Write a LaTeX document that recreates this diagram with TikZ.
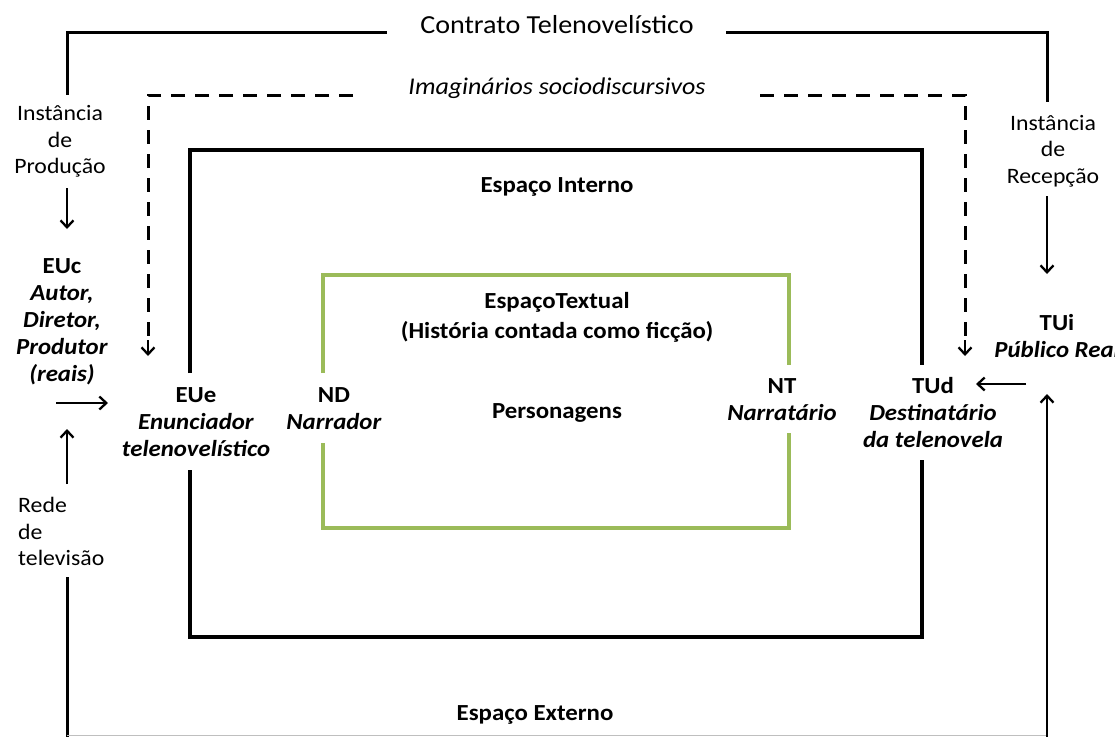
\documentclass[tikz,border=0pt]{standalone}
\usepackage{fontspec}
\setmainfont{Carlito}[FakeStretch=1.08]
\usetikzlibrary{arrows.meta}
\definecolor{textgreen}{HTML}{9BBB59}
\begin{document}
\begin{tikzpicture}[x=1pt,y=-1pt,
  lbl/.style={inner sep=0pt, align=center, font=\fontsize{22}{26.5}\selectfont},
  blbl/.style={inner sep=0pt, align=center, font=\fontsize{23}{27}\selectfont\bfseries},
  bilbl/.style={inner sep=0pt, align=center, font=\fontsize{23}{27}\selectfont\bfseries\itshape},
  outerline/.style={line width=3pt, line cap=rect, line join=miter},
  innerline/.style={line width=4.5pt, line join=miter},
  textline/.style={line width=3.5pt, draw=textgreen, line join=miter},
  dashline/.style={line width=3pt, dash pattern=on 14pt off 10pt},
  arr/.style={line width=2.3pt, -{Straight Barb[length=7pt,width=13pt]}},
]
\useasboundingbox (0,0) rectangle (1115,736);

% --- titles of the spaces ---
\node[lbl, font=\fontsize{26}{30}\selectfont] (contrato) at (557,25) {Contrato Telenovelístico};
\node[lbl, font=\fontsize{24}{28}\selectfont\itshape] (imag) at (557,88) {Imaginários sociodiscursivos};
\node[blbl] (interno) at (557,187) {Espaço Interno};
\node[blbl] (externo) at (535,715) {Espaço Externo};
\node[blbl, font=\fontsize{23}{30}\selectfont\bfseries] (textual) at (557,317) {EspaçoTextual\\(História contada como ficção)};
\node[blbl] (perso) at (557,413) {Personagens};

% --- production side ---
\node[lbl] (prod) at (60,141.5) {Instância\\de\\Produção};
\node[blbl] (euc) at (62,322) {EUc\\\textit{Autor,}\\\textit{Diretor,}\\\textit{Produtor}\\\textit{(reais)}};
\node[lbl, align=left, anchor=west] (rede) at (18,531.5) {Rede\\de\\televisão};
\node[blbl] (eue) at (196,422) {EUe\\\textit{Enunciador}\\\textit{telenovelístico}};
\node[blbl] (nd) at (334,408.5) {ND\\\textit{Narrador}};

% --- reception side ---
\node[lbl] (recep) at (1053,151) {Instância\\de\\Recepção};
\node[blbl] (tui) at (1057,336) {TUi\\\textit{Público Real}};
\node[blbl] (tud) at (933,413) {TUd\\\textit{Destinatário}\\\textit{da telenovela}};
\node[blbl] (nt) at (782,400) {NT\\\textit{Narratário}};

% --- outer frame (contract) ---
\draw[outerline] (385,32) -- (67,32) -- (67,93);
\draw[outerline] (727,32) -- (1047,32) -- (1047,100);
\draw[outerline] (67,578) -- (67,745);
\draw[line width=1pt, black!25] (67,735.5) -- (1047,735.5);

% --- dashed frame (imaginaries) ---
\coordinate (dl) at (148,356);
\coordinate (dr) at (965,356);
\draw[dashline] (353,95) -- (148,95) -- (148,345);
\draw[arr] (148,340) -- (dl);
\draw[dashline] (760,95) -- (965,95) -- (965,345);
\draw[arr] (965,340) -- (dr);

% --- internal space frame ---
\draw[innerline] (190,373) -- (190,150) -- (922,150) -- (922,365);
\draw[innerline] (190,470) -- (190,637) -- (922,637) -- (922,460);

% --- textual space frame ---
\draw[textline] (323,373) -- (323,275) -- (789,275) -- (789,365);
\draw[textline] (323,443) -- (323,528) -- (789,528) -- (789,433);

% --- arrows between the instances ---
\coordinate (p1) at (67,188);
\coordinate (p2) at (67,229);
\draw[arr] (p1) -- (p2);
\coordinate (h1) at (56,403);
\coordinate (h2) at (108,403);
\draw[arr] (h1) -- (h2);
\coordinate (r1) at (67,484);
\coordinate (r2) at (67,429);
\draw[arr] (r1) -- (r2);
\coordinate (q1) at (1047,196);
\coordinate (q2) at (1047,274);
\draw[arr] (q1) -- (q2);
\coordinate (k1) at (1026,384);
\coordinate (k2) at (976,384);
\draw[arr] (k1) -- (k2);
\coordinate (u1) at (1047,745);
\coordinate (u2) at (1047,394);
\draw[arr] (u1) -- (u2);
\end{tikzpicture}
\end{document}
